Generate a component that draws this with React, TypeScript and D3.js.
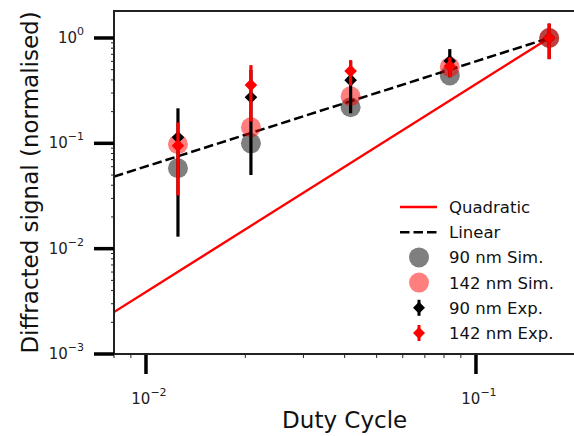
import React from "react";
import * as d3 from "d3";

// duty cycles of the five gratings
const dutyCycle = [0.0125, 0.0208, 0.0417, 0.0833, 0.1667];

// simulated signal (normalised)
const sim90 = [0.058, 0.1, 0.22, 0.44, 1.0];
const sim142 = [0.098, 0.142, 0.28, 0.53, 1.0];

// measured signal and error
const exp90 = [0.114, 0.274, 0.398, 0.604, 1.0];
const exp90Err = [0.101, 0.224, 0.205, 0.18, 0.37];
const exp142 = [0.095, 0.357, 0.485, 0.54, 1.0];
const exp142Err = [0.063, 0.196, 0.132, 0.115, 0.37];

// reference lines (endpoints)
const fitX = [0.008, 0.1667];
const quadFit = [0.0025, 1.0];
const linFit = [0.0483, 1.0];

const xTicks = [0.01, 0.1];
const xTickLabels = ["−2", "−1"];
const yTicks = [1e-3, 1e-2, 1e-1, 1];
const yTickLabels = ["−3", "−2", "−1", "0"];

const legendItems = [
  "Quadratic",
  "Linear",
  "90 nm Sim.",
  "142 nm Sim.",
  "90 nm Exp.",
  "142 nm Exp.",
];

const font = "DejaVu Sans";

const App = () => {
  const width = 574;
  const height = 436;
  const left = 114;
  const top = 11;
  const bottom = 354;

  const x = d3.scaleLog().domain([0.008, 0.2]).range([left, 575.3]);
  const y = d3.scaleLog().domain([1e-3, 1.804]).range([bottom, top]);
  const right = x(0.2);

  const line = d3
    .line<number>()
    .x((_, i) => x(fitX[i]))
    .y((d) => y(d));

  // minor ticks
  const xMinor: number[] = [];
  [0.001, 0.01, 0.1].forEach((dec) => {
    for (let k = 2; k <= 9; k++) {
      const v = dec * k;
      if (v >= 0.008 && v <= 0.2) xMinor.push(v);
    }
  });
  const yMinor: number[] = [];
  [1e-3, 1e-2, 1e-1, 1].forEach((dec) => {
    for (let k = 2; k <= 9; k++) {
      const v = dec * k;
      if (v <= 1.804) yMinor.push(v);
    }
  });

  const diamond = (cx: number, cy: number, r: number) =>
    `M${cx},${cy - r}L${cx + r},${cy}L${cx},${cy + r}L${cx - r},${cy}Z`;

  const errBars = (vals: number[], errs: number[], color: string, key: string) => (
    <g key={key}>
      {vals.map((v, i) => (
        <line
          key={`${key}-bar-${i}`}
          x1={x(dutyCycle[i])}
          x2={x(dutyCycle[i])}
          y1={y(v + errs[i])}
          y2={y(Math.max(v - errs[i], 1e-4))}
          stroke={color}
          strokeWidth={3.2}
        />
      ))}
      {vals.map((v, i) => (
        <path
          key={`${key}-pt-${i}`}
          d={diamond(x(dutyCycle[i]), y(v), 6.3)}
          fill={color}
        />
      ))}
    </g>
  );

  const legX = 400;
  const legY = 207;
  const legStep = 25.2;

  return (
    <svg
      width={width}
      height={height}
      style={{ position: "absolute", left: 0, top: 0, background: "#fff" }}
      fontFamily={font}
    >
      <defs>
        <clipPath id="plot">
          <rect x={left} y={top} width={right - left} height={bottom - top} />
        </clipPath>
      </defs>

      <g clipPath="url(#plot)">
        {/* reference lines */}
        <path d={line(quadFit) || ""} fill="none" stroke="#ff0000" strokeWidth={2.4} />
        <path
          d={line(linFit) || ""}
          fill="none"
          stroke="#000"
          strokeWidth={2.5}
          strokeDasharray="9.5,4"
        />

        {/* simulations */}
        {sim90.map((v, i) => (
          <circle key={`s90-${i}`} cx={x(dutyCycle[i])} cy={y(v)} r={10} fill="#000" fillOpacity={0.5} />
        ))}
        {sim142.map((v, i) => (
          <circle key={`s142-${i}`} cx={x(dutyCycle[i])} cy={y(v)} r={10} fill="#ff0000" fillOpacity={0.5} />
        ))}

        {/* experiments */}
        {errBars(exp90, exp90Err, "#000", "e90")}
        {errBars(exp142, exp142Err, "#ff0000", "e142")}
      </g>

      {/* spines */}
      <rect
        x={left}
        y={top}
        width={right - left}
        height={bottom - top}
        fill="none"
        stroke="#222"
        strokeWidth={2}
      />

      {/* x axis ticks */}
      {xMinor.map((v) => (
        <line key={`xm-${v}`} x1={x(v)} x2={x(v)} y1={bottom} y2={bottom + 4} stroke="#222" strokeWidth={1} />
      ))}
      {xTicks.map((v, i) => (
        <g key={`xt-${v}`}>
          <line x1={x(v)} x2={x(v)} y1={bottom + 1} y2={bottom + 20} stroke="#000" strokeWidth={3.5} />
          <text x={x(v) + 3} y={404} textAnchor="middle" fontSize={15} fill="#222">
            <tspan>10</tspan>
            <tspan dy={-8} fontSize={11}>
              {xTickLabels[i]}
            </tspan>
          </text>
        </g>
      ))}

      {/* y axis ticks */}
      {yMinor.map((v) => (
        <line key={`ym-${v}`} x1={left - 3} x2={left} y1={y(v)} y2={y(v)} stroke="#222" strokeWidth={1} />
      ))}
      {yTicks.map((v, i) => (
        <g key={`yt-${v}`}>
          <line x1={left - 20} x2={left} y1={y(v)} y2={y(v)} stroke="#000" strokeWidth={3.5} />
          <text x={84} y={y(v) + 5} textAnchor="end" fontSize={15} fill="#222">
            <tspan>10</tspan>
            <tspan dy={-8} fontSize={11}>
              {yTickLabels[i]}
            </tspan>
          </text>
        </g>
      ))}

      {/* axis labels */}
      <text x={(left + right) / 2} y={428} textAnchor="middle" fontSize={23} fill="#111">
        Duty Cycle
      </text>
      <text
        transform={`translate(38, ${(top + bottom) / 2}) rotate(-90)`}
        textAnchor="middle"
        fontSize={23}
        fill="#111"
      >
        Diffracted signal (normalised)
      </text>

      {/* legend */}
      <g>
        <line x1={legX} x2={legX + 37} y1={legY} y2={legY} stroke="#ff0000" strokeWidth={2.5} />
        <line
          x1={legX}
          x2={legX + 37}
          y1={legY + legStep}
          y2={legY + legStep}
          stroke="#000"
          strokeWidth={2.5}
          strokeDasharray="9.5,4"
        />
        <circle cx={legX + 19} cy={legY + legStep * 2} r={10} fill="#000" fillOpacity={0.5} />
        <circle cx={legX + 19} cy={legY + legStep * 3} r={10} fill="#ff0000" fillOpacity={0.5} />
        <line
          x1={legX + 19}
          x2={legX + 19}
          y1={legY + legStep * 4 - 8}
          y2={legY + legStep * 4 + 8}
          stroke="#000"
          strokeWidth={3}
        />
        <path d={diamond(legX + 19, legY + legStep * 4, 6)} fill="#000" />
        <line
          x1={legX + 19}
          x2={legX + 19}
          y1={legY + legStep * 5 - 8}
          y2={legY + legStep * 5 + 8}
          stroke="#ff0000"
          strokeWidth={3}
        />
        <path d={diamond(legX + 19, legY + legStep * 5, 6)} fill="#ff0000" />
        {legendItems.map((label, i) => (
          <text key={label} x={449} y={legY + legStep * i + 6} fontSize={16.5} fill="#111">
            {label}
          </text>
        ))}
      </g>
    </svg>
  );
};

export default App;
